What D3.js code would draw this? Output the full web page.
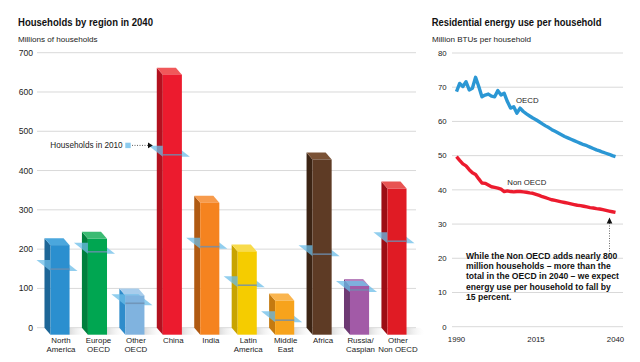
<!DOCTYPE html>
<html>
<head>
<meta charset="utf-8">
<script src="https://cdn.jsdelivr.net/npm/d3@7"></script>
<style>
  body { margin: 0; background: #fff; }
  svg { display: block; font-family: "Liberation Sans", Arial, sans-serif; }
  .title { font-weight: bold; font-size: 11.8px; fill: #111; }
  .sub { font-size: 8.1px; fill: #222; }
  .tick { font-size: 8px; fill: #222; }
  .grid { stroke: #d9d9d9; stroke-width: 1; }
</style>
</head>
<body>
<svg id="chart" width="640" height="362"></svg>
<script>
// households by region, 2040 vs 2010 (millions)
const regions = ["North America", "Europe OECD", "Other OECD", "China", "India",
  "Latin America", "Middle East", "Africa", "Russia/ Caspian", "Other Non OECD"];
const labels = [["North", "America"], ["Europe", "OECD"], ["Other", "OECD"], ["China"], ["India"],
  ["Latin", "America"], ["Middle", "East"], ["Africa"], ["Russia/", "Caspian"], ["Other", "Non OECD"]];
const households2040 = [228, 244, 100, 662, 336, 212, 87, 446, 124, 372];
const households2010 = [167, 211, 80, 458, 224, 126, 37, 205, 114, 238];
const barColors = [
  {front: "#2b8fcf", side: "#1d6697", top: "#4ba7dd"},
  {front: "#00a651", side: "#00803d", top: "#3bbb73"},
  {front: "#80b3df", side: "#2f8ccb", top: "#a8cdec"},
  {front: "#ec1b2e", side: "#b3111f", top: "#f0585a"},
  {front: "#f5831f", side: "#b05a12", top: "#f79b4c"},
  {front: "#f5cc00", side: "#c8a300", top: "#f8db4c"},
  {front: "#f7a31c", side: "#c47a10", top: "#fab54f"},
  {front: "#5e3b25", side: "#3c2414", top: "#7a5236"},
  {front: "#a25aa7", side: "#6e3a74", top: "#b882bd"},
  {front: "#e01b24", side: "#9c0e15", top: "#e85452"}
];
const leftTicks = [0, 100, 200, 300, 400, 500, 600, 700];

// energy use per household (million BTUs)
const years = d3.range(1990, 2041);
const oecd = [68.7, 71.1, 70.2, 71.6, 69.2, 69.7, 72.9, 70.2, 67.2, 67.7,
  68.0, 67.4, 67.2, 69.0, 67.7, 68.2, 65.8, 63.9, 64.3, 62.4,
  63.9, 62.9, 62.2, 61.6, 61.0, 60.5, 59.9, 59.3, 58.7, 58.2,
  57.6, 57.1, 56.6, 56.1, 55.6, 55.2, 54.8, 54.4, 54.0, 53.6,
  53.2, 52.9, 52.5, 52.1, 51.7, 51.4, 51.0, 50.7, 50.4, 50.0, 49.7];
const nonOecd = [49.7, 48.6, 47.6, 47.0, 45.9, 45.0, 44.5, 43.2, 42.0, 41.9,
  41.4, 40.9, 40.7, 40.5, 40.2, 39.5, 39.7, 39.5, 39.4, 39.5,
  39.5, 39.4, 39.3, 39.1, 39.0, 38.7, 38.4, 38.0, 37.7, 37.4,
  37.1, 36.9, 36.7, 36.5, 36.3, 36.1, 35.9, 35.7, 35.5, 35.4,
  35.2, 35.0, 34.8, 34.7, 34.5, 34.4, 34.2, 34.0, 33.8, 33.6, 33.4];
const rightTicks = [0, 10, 20, 30, 40, 50, 60, 70, 80];
const yearTicks = [1990, 2015, 2040];
const note = ["While the Non OECD adds nearly 800", "million households \u2013 more than the",
  "total in the OECD in 2040 \u2013 we expect", "energy use per household to fall by", "15 percent."];

const svg = d3.select("#chart");

// condensed bold title: squeeze the text horizontally to the wanted width
function title(x0, y0, width, txt) {
  const t = svg.append("text").attr("class", "title").attr("x", 0).attr("y", 0).text(txt);
  const sx = width / t.node().getComputedTextLength();
  t.attr("transform", `translate(${x0},${y0}) scale(${sx},1)`);
}

// ---------- left chart ----------
const y = d3.scaleLinear().domain([0, 700]).range([327.7, 52.7]);
const x = d3.scaleBand().domain(regions).range([41.3, 415.7]).paddingInner(0.49).paddingOuter(0.245);
const dx = 6, dy = 7; // depth of the 3d bars

title(18, 26, 135, "Households by region in 2040");
svg.append("text").attr("class", "sub").attr("x", 18).attr("y", 42).text("Millions of households");

svg.append("g").selectAll("line").data(leftTicks).join("line")
  .attr("class", "grid")
  .attr("x1", 37).attr("x2", 416)
  .attr("y1", d => y(d)).attr("y2", d => y(d));
svg.append("g").selectAll("text").data(leftTicks).join("text")
  .attr("class", "tick").style("font-size", "8.6px")
  .attr("x", 33).attr("y", d => y(d) + 3)
  .attr("text-anchor", "end")
  .text(d => d);

const defs = svg.append("defs");
const grad = defs.append("linearGradient").attr("id", "shadow");
grad.append("stop").attr("offset", "0%").attr("stop-color", "#c4c4c4");
grad.append("stop").attr("offset", "100%").attr("stop-color", "#fff").attr("stop-opacity", 0);

const bars = svg.append("g").selectAll("g").data(regions).join("g");
const base = y(0);

bars.each(function(name, i) {
  const g = d3.select(this);
  const x0 = x(name), x1 = x0 + x.bandwidth();
  const yt = y(households2040[i]) + dy;
  const c = barColors[i];
  // floor shadow
  g.append("polygon")
    .attr("points", [[x1 - dx, base], [x1 + 14, base], [x1 + 20, base + dy], [x1, base + dy]].join(" "))
    .attr("fill", "url(#shadow)");
  g.append("polygon")
    .attr("points", [[x0, yt], [x0 - dx, yt - dy], [x0 - dx, base], [x0, base + dy]].join(" "))
    .attr("fill", c.side);
  g.append("polygon")
    .attr("points", [[x0, yt], [x0 - dx, yt - dy], [x1 - dx, yt - dy], [x1, yt]].join(" "))
    .attr("fill", c.top);
  // 2010 plane
  const yl = y(households2010[i]) + dy;
  g.append("polygon")
    .attr("points", [[x0 - 14, yl - 9], [x1 - 6, yl - 9], [x1 + 8, yl + 2], [x0, yl + 2]].join(" "))
    .attr("fill", "#6cbde8").attr("fill-opacity", 0.75);
  g.append("rect")
    .attr("x", x0).attr("y", yt)
    .attr("width", x1 - x0).attr("height", base + dy - yt)
    .attr("fill", c.front);
  g.append("line")
    .attr("x1", x0).attr("x2", x1).attr("y1", yl).attr("y2", yl)
    .attr("stroke", "#6d8fb0").attr("stroke-opacity", 0.8).attr("stroke-width", 1.6);

  g.append("text")
    .attr("class", "tick").style("font-size", "7.9px")
    .attr("text-anchor", "middle")
    .attr("x", (x0 + x1) / 2 + 1)
    .selectAll("tspan").data(labels[i]).join("tspan")
    .attr("x", (x0 + x1) / 2 + 1)
    .attr("y", (d, j) => 342.6 + j * 9)
    .text(d => d);
});

// legend for 2010
svg.append("text").attr("class", "tick").style("font-size", "8.2px").attr("x", 122.7).attr("y", 148.3)
  .attr("text-anchor", "end").text("Households in 2010");
svg.append("rect").attr("x", 125.3).attr("y", 142.7).attr("width", 5.4).attr("height", 5.4).attr("fill", "#8ccbee");
svg.append("line").attr("x1", 132).attr("x2", 148).attr("y1", 145.4).attr("y2", 145.4)
  .attr("stroke", "#333").attr("stroke-width", 0.8).attr("stroke-dasharray", "1,1.5");
svg.append("path").attr("d", "M148,142.6L152.8,145.4L148,148.2Z").attr("fill", "#111");

// ---------- right chart ----------
const y2 = d3.scaleLinear().domain([0, 80]).range([326.7, 53]);
const x2 = d3.scaleLinear().domain([1990, 2040]).range([456.5, 615.5]);

title(431.7, 26, 170, "Residential energy use per household");
svg.append("text").attr("class", "sub").attr("x", 432).attr("y", 42).text("Million BTUs per household");

svg.append("g").selectAll("line").data(rightTicks).join("line")
  .attr("class", "grid")
  .attr("x1", 452).attr("x2", 623)
  .attr("y1", d => y2(d)).attr("y2", d => y2(d));
svg.append("g").selectAll("text").data(rightTicks).join("text")
  .attr("class", "tick").style("font-size", "7.8px")
  .attr("x", 446.7).attr("y", d => y2(d) + 2.8)
  .attr("text-anchor", "end")
  .text(d => d);
svg.append("g").selectAll("text").data(yearTicks).join("text")
  .attr("class", "tick").style("font-size", "7.8px")
  .attr("x", d => x2(d)).attr("y", 342)
  .attr("text-anchor", "middle")
  .text(d => d);

const line = d3.line().x((d, i) => x2(years[i])).y(d => y2(d));
svg.append("path").datum(oecd).attr("d", line)
  .attr("fill", "none").attr("stroke", "#2b97d4").attr("stroke-width", 3.4).attr("stroke-linejoin", "round");
svg.append("path").datum(nonOecd).attr("d", line)
  .attr("fill", "none").attr("stroke", "#ec1b2e").attr("stroke-width", 3.4).attr("stroke-linejoin", "round");

svg.append("text").attr("class", "tick").style("font-size", "7.8px")
  .attr("x", 516).attr("y", 103.3).text("OECD");
svg.append("text").attr("class", "tick").style("font-size", "7.8px")
  .attr("x", 507.3).attr("y", 185).text("Non OECD");

// annotation arrow
svg.append("line").attr("x1", 609.5).attr("x2", 609.5).attr("y1", 223).attr("y2", 258)
  .attr("stroke", "#444").attr("stroke-width", 0.8).attr("stroke-dasharray", "1,1.5");
svg.append("path").attr("d", "M609.5,217.5L612.3,223.5L606.7,223.5Z").attr("fill", "#111");

svg.append("text")
  .style("font-weight", "bold").style("font-size", "8.6px").style("fill", "#111")
  .selectAll("tspan").data(note).join("tspan")
  .attr("x", 466).attr("y", (d, i) => 258.5 + i * 10.4)
  .text(d => d);
</script>
</body>
</html>
